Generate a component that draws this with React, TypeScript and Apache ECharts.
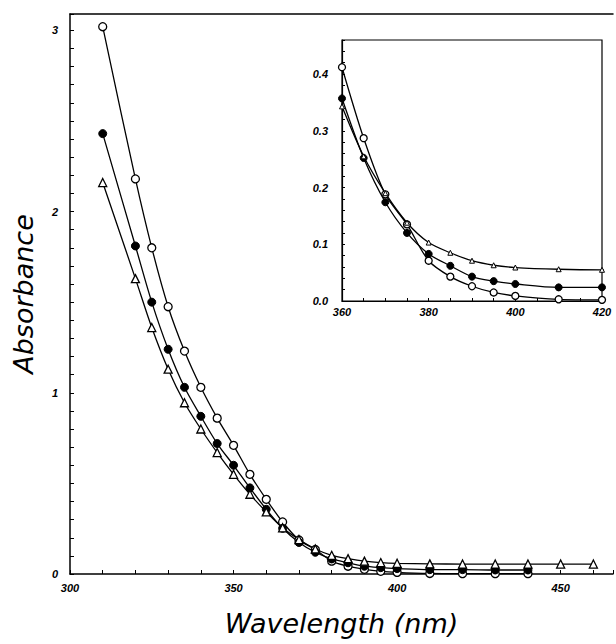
import React, { useEffect, useRef } from "react";
import * as echarts from "echarts";

const openX = [310, 320, 325, 330, 335, 340, 345, 350, 355, 360, 365, 370, 375, 380, 385, 390, 395, 400, 410, 420, 430, 440];
const openY = [3.02, 2.18, 1.8, 1.475, 1.23, 1.03, 0.86, 0.71, 0.55, 0.412, 0.287, 0.188, 0.135, 0.071, 0.043, 0.026, 0.015, 0.009, 0.003, 0.002, 0.002, 0.002];

const filledX = [310, 320, 325, 330, 335, 340, 345, 350, 355, 360, 365, 370, 375, 380, 385, 390, 395, 400, 410, 420, 430, 440];
const filledY = [2.43, 1.81, 1.5, 1.24, 1.03, 0.87, 0.72, 0.6, 0.475, 0.357, 0.252, 0.174, 0.12, 0.083, 0.062, 0.043, 0.035, 0.03, 0.024, 0.024, 0.022, 0.022];

const triX = [310, 320, 325, 330, 335, 340, 345, 350, 355, 360, 365, 370, 375, 380, 385, 390, 395, 400, 410, 420, 430, 440, 450, 460];
const triY = [2.16, 1.63, 1.36, 1.13, 0.945, 0.8, 0.67, 0.55, 0.44, 0.343, 0.255, 0.19, 0.138, 0.103, 0.085, 0.071, 0.063, 0.059, 0.056, 0.055, 0.055, 0.055, 0.055, 0.055];

const mainYLabels = ["0", "1", "2", "3"];
const mainXLabels = ["300", "350", "400", "450"];
const insetYLabels = ["0.0", "0.1", "0.2", "0.3", "0.4"];
const insetXLabels = ["360", "380", "400", "420"];

const zip = (xs: number[], ys: number[]) => xs.map((x, i) => [x, ys[i]]);

const tickFont = {
  fontFamily: "Liberation Sans",
  fontStyle: "italic" as const,
  fontWeight: "bold" as const,
  fontSize: 11,
  color: "#000",
};

export default function App() {
  const ref = useRef<HTMLDivElement>(null);
  useEffect(() => {
    if (!ref.current) return;
    const chart = echarts.init(ref.current, null, { renderer: "svg" });
    const lbl = (list: string[]) => (v: number) => {
      const hit = list.find((s) => Math.abs(parseFloat(s) - v) < 1e-6);
      return hit ?? "";
    };
    const seriesBase = {
      type: "line" as const,
      smooth: 0.3,
      lineStyle: { color: "#000", width: 1.3 },
      clip: true,
    };
    chart.setOption({
      animation: false,
      backgroundColor: "#fff",
      grid: [
        { left: 70, top: 14, right: 0, bottom: 70, show: false },
        {
          left: 342,
          top: 40,
          right: 14,
          bottom: 343,
          show: true,
          backgroundColor: "#fff",
          borderColor: "#000",
          borderWidth: 1.2,
          z: 5,
        },
      ],
      xAxis: [
        {
          type: "value",
          gridIndex: 0,
          min: 300,
          max: 466,
          interval: 10,
          name: "Wavelength (nm)",
          nameLocation: "middle",
          nameGap: 36,
          nameTextStyle: {
            fontFamily: "DejaVu Sans",
            fontStyle: "italic",
            fontSize: 27,
            color: "#000",
            verticalAlign: "top",
          },
          axisLine: { lineStyle: { color: "#000", width: 1.5 } },
          axisTick: { inside: true, length: 4, lineStyle: { color: "#000" } },
          axisLabel: { ...tickFont, formatter: lbl(mainXLabels), margin: 8 },
          splitLine: { show: false },
        },
        {
          type: "value",
          gridIndex: 0,
          position: "top",
          min: 300,
          max: 466,
          axisLine: { show: true, lineStyle: { color: "#000", width: 1.5 } },
          axisTick: { show: false },
          axisLabel: { show: false },
          splitLine: { show: false },
        },
        {
          type: "value",
          gridIndex: 1,
          min: 360,
          max: 420,
          interval: 5,
          axisLine: { lineStyle: { color: "#000", width: 1.2 } },
          axisTick: { inside: true, length: 3, lineStyle: { color: "#000" } },
          axisLabel: { ...tickFont, formatter: lbl(insetXLabels), margin: 5 },
          splitLine: { show: false },
          z: 6,
        },
      ],
      yAxis: [
        {
          type: "value",
          gridIndex: 0,
          min: 0,
          max: 3.09,
          interval: 0.1,
          name: "Absorbance",
          nameLocation: "middle",
          nameGap: 33,
          nameTextStyle: {
            fontFamily: "DejaVu Sans",
            fontStyle: "italic",
            fontSize: 27,
            color: "#000",
          },
          axisLine: { lineStyle: { color: "#000", width: 1.5 } },
          axisTick: { inside: true, length: 4, lineStyle: { color: "#000" } },
          axisLabel: { ...tickFont, formatter: lbl(mainYLabels), margin: 12 },
          splitLine: { show: false },
        },
        {
          type: "value",
          gridIndex: 1,
          min: 0,
          max: 0.46,
          interval: 0.02,
          axisLine: { lineStyle: { color: "#000", width: 1.2 } },
          axisTick: { inside: true, length: 3, lineStyle: { color: "#000" } },
          axisLabel: { ...tickFont, formatter: lbl(insetYLabels), margin: 14 },
          splitLine: { show: false },
          z: 6,
        },
      ],
      series: [
        {
          ...seriesBase,
          name: "open",
          xAxisIndex: 0,
          yAxisIndex: 0,
          data: zip(openX, openY),
          symbol: "circle",
          symbolSize: 8,
          itemStyle: { color: "#fff", borderColor: "#000", borderWidth: 1.3 },
        },
        {
          ...seriesBase,
          name: "filled",
          xAxisIndex: 0,
          yAxisIndex: 0,
          data: zip(filledX, filledY),
          symbol: "circle",
          symbolSize: 8,
          itemStyle: { color: "#000", borderColor: "#000", borderWidth: 1 },
        },
        {
          ...seriesBase,
          name: "triangle",
          xAxisIndex: 0,
          yAxisIndex: 0,
          data: zip(triX, triY),
          symbol: "triangle",
          symbolSize: 8,
          itemStyle: { color: "#fff", borderColor: "#000", borderWidth: 1.3 },
        },
        {
          ...seriesBase,
          name: "open-inset",
          xAxisIndex: 2,
          yAxisIndex: 1,
          data: zip(openX, openY),
          symbol: "circle",
          symbolSize: 7,
          z: 10,
          itemStyle: { color: "#fff", borderColor: "#000", borderWidth: 1.3 },
        },
        {
          ...seriesBase,
          name: "filled-inset",
          xAxisIndex: 2,
          yAxisIndex: 1,
          data: zip(filledX, filledY),
          symbol: "circle",
          symbolSize: 7,
          z: 10,
          itemStyle: { color: "#000", borderColor: "#000", borderWidth: 1 },
        },
        {
          ...seriesBase,
          name: "triangle-inset",
          xAxisIndex: 2,
          yAxisIndex: 1,
          data: zip(triX, triY),
          symbol: "triangle",
          symbolSize: 5,
          z: 10,
          itemStyle: { color: "#fff", borderColor: "#000", borderWidth: 1 },
        },
      ],
    });
    return () => chart.dispose();
  }, []);
  return <div ref={ref} style={{ width: 616, height: 644, position: "absolute", left: 0, top: 0 }} />;
}
